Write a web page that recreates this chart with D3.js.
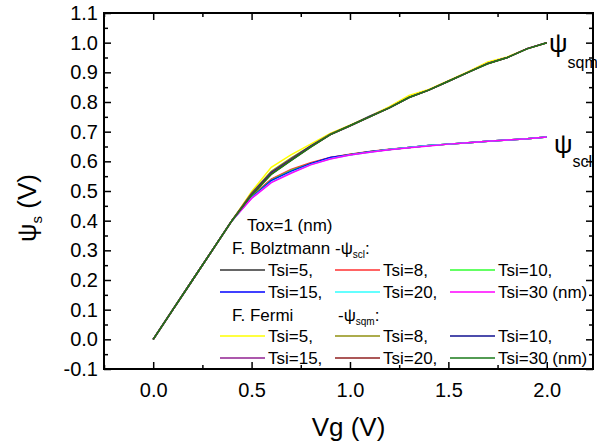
<!DOCTYPE html>
<html>
<head>
<meta charset="utf-8">
<script src="https://cdn.jsdelivr.net/npm/d3@7/dist/d3.min.js"></script>
<style>
  body { margin: 0; background: #fff; }
  svg { display: block; font-family: Arial, "Liberation Sans", sans-serif; }
  .axis path { display: none; }
  .axis line { stroke: #000; stroke-width: 1.5; }
  .axis text { font-size: 20px; fill: #000; }
</style>
</head>
<body>
<div id="chart"></div>
<script>
// gate voltage samples shared by every curve
var vg = [0, 0.1, 0.2, 0.3, 0.4, 0.5, 0.6, 0.7, 0.8, 0.9, 1.0,
          1.1, 1.2, 1.3, 1.4, 1.5, 1.6, 1.7, 1.8, 1.9, 2.0];

// Boltzmann statistics (psi_scl), one list per silicon thickness
var bolt5  = [0, 0.1, 0.2, 0.3, 0.4, 0.482, 0.538, 0.570, 0.593, 0.612, 0.623, 0.632, 0.640, 0.647, 0.653, 0.658, 0.663, 0.668, 0.672, 0.676, 0.682];
var bolt8  = [0, 0.1, 0.2, 0.3, 0.4, 0.483, 0.540, 0.573, 0.595, 0.613, 0.624, 0.633, 0.641, 0.647, 0.653, 0.658, 0.663, 0.668, 0.672, 0.676, 0.682];
var bolt10 = [0, 0.1, 0.2, 0.3, 0.4, 0.480, 0.537, 0.569, 0.592, 0.611, 0.622, 0.632, 0.640, 0.647, 0.653, 0.658, 0.663, 0.668, 0.672, 0.676, 0.682];
var bolt15 = [0, 0.1, 0.2, 0.3, 0.4, 0.478, 0.535, 0.566, 0.592, 0.613, 0.622, 0.632, 0.640, 0.647, 0.653, 0.658, 0.663, 0.668, 0.672, 0.676, 0.682];
var bolt20 = [0, 0.1, 0.2, 0.3, 0.4, 0.476, 0.530, 0.562, 0.589, 0.609, 0.621, 0.631, 0.640, 0.647, 0.653, 0.658, 0.663, 0.668, 0.672, 0.676, 0.682];
var bolt30 = [0, 0.1, 0.2, 0.3, 0.4, 0.475, 0.528, 0.560, 0.588, 0.608, 0.621, 0.631, 0.639, 0.646, 0.652, 0.658, 0.663, 0.668, 0.672, 0.676, 0.682];

// Fermi statistics (psi_sqm)
var fermi5  = [0, 0.1, 0.2, 0.3, 0.4, 0.498, 0.580, 0.622, 0.658, 0.694, 0.722, 0.752, 0.784, 0.822, 0.842, 0.872, 0.902, 0.935, 0.952, 0.980, 1.0];
var fermi8  = [0, 0.1, 0.2, 0.3, 0.4, 0.493, 0.566, 0.611, 0.652, 0.692, 0.721, 0.750, 0.781, 0.816, 0.840, 0.870, 0.900, 0.930, 0.950, 0.980, 1.0];
var fermi10 = [0, 0.1, 0.2, 0.3, 0.4, 0.490, 0.562, 0.607, 0.651, 0.690, 0.720, 0.752, 0.780, 0.815, 0.840, 0.870, 0.900, 0.930, 0.950, 0.980, 1.0];
var fermi15 = [0, 0.1, 0.2, 0.3, 0.4, 0.488, 0.558, 0.604, 0.649, 0.690, 0.719, 0.750, 0.780, 0.815, 0.840, 0.870, 0.900, 0.930, 0.950, 0.980, 1.0];
var fermi20 = [0, 0.1, 0.2, 0.3, 0.4, 0.487, 0.557, 0.603, 0.648, 0.690, 0.720, 0.750, 0.780, 0.815, 0.840, 0.870, 0.900, 0.929, 0.950, 0.979, 1.0];
var fermi30 = [0, 0.1, 0.2, 0.3, 0.4, 0.486, 0.556, 0.602, 0.648, 0.690, 0.720, 0.750, 0.780, 0.815, 0.840, 0.870, 0.900, 0.929, 0.950, 0.979, 1.0];

var boltLabels  = ["Tsi=5,", "Tsi=8,", "Tsi=10,", "Tsi=15,", "Tsi=20,", "Tsi=30 (nm)"];
var fermiLabels = ["Tsi=5,", "Tsi=8,", "Tsi=10,", "Tsi=15,", "Tsi=20,", "Tsi=30 (nm)"];
var boltColors  = ["#333333", "#ff3030", "#30ff30", "#0000ff", "#30ffff", "#ff00ff"];
var fermiColors = ["#ffff00", "#909010", "#101090", "#902090", "#902020", "#1a7a1a"];

var xTicks = [0, 0.5, 1.0, 1.5, 2.0];
var yTicks = [-0.1, 0, 0.1, 0.2, 0.3, 0.4, 0.5, 0.6, 0.7, 0.8, 0.9, 1.0, 1.1];

var W = 597, H = 448;
var margin = {top: 13, right: 4, bottom: 79, left: 104};
var width = W - margin.left - margin.right,
    height = H - margin.top - margin.bottom;

var svg = d3.select("#chart").append("svg")
    .attr("width", W)
    .attr("height", H);

svg.append("rect").attr("width", W).attr("height", H).attr("fill", "#fff");

var g = svg.append("g")
    .attr("transform", "translate(" + margin.left + "," + margin.top + ")");

var x = d3.scaleLinear().domain([-0.25, 2.235]).range([0, width]);
var y = d3.scaleLinear().domain([-0.1, 1.1]).range([height, 0]);

var xMinor = d3.range(-0.25, 2.24, 0.25).filter(function(d) { return xTicks.indexOf(+d.toFixed(2)) < 0; });
var yMinor = d3.range(-0.05, 1.1, 0.1);

// plain hyphen for negatives, like the original plot
var fmt = function(d) { return d3.format(".1f")(d).replace("\u2212", "-"); };

// curves
var line = d3.line()
    .x(function(d, i) { return x(vg[i]); })
    .y(function(d) { return y(d); });

var bolt = [bolt5, bolt8, bolt10, bolt15, bolt20, bolt30];
var fermi = [fermi5, fermi8, fermi10, fermi15, fermi20, fermi30];

bolt.forEach(function(s, i) {
  g.append("path").datum(s).attr("d", line)
    .attr("fill", "none").attr("stroke", boltColors[i]).attr("stroke-width", 1.5);
});
fermi.forEach(function(s, i) {
  g.append("path").datum(s).attr("d", line)
    .attr("fill", "none").attr("stroke", fermiColors[i]).attr("stroke-width", 1.5);
});

// axes, ticks inward on all four sides
g.append("g").attr("class", "axis")
  .attr("transform", "translate(0," + height + ")")
  .call(d3.axisBottom(x).tickValues(xTicks).tickSize(-7).tickPadding(14).tickFormat(fmt));
g.append("g").attr("class", "axis")
  .attr("transform", "translate(0," + height + ")")
  .call(d3.axisBottom(x).tickValues(xMinor).tickSize(-4).tickFormat(""));
g.append("g").attr("class", "axis")
  .call(d3.axisTop(x).tickValues(xTicks).tickSize(-7).tickFormat(""));
g.append("g").attr("class", "axis")
  .call(d3.axisTop(x).tickValues(xMinor).tickSize(-4).tickFormat(""));

g.append("g").attr("class", "axis")
  .call(d3.axisLeft(y).tickValues(yTicks).tickSize(-7).tickPadding(6).tickFormat(fmt));
g.append("g").attr("class", "axis")
  .call(d3.axisLeft(y).tickValues(yMinor).tickSize(-4).tickFormat(""));
g.append("g").attr("class", "axis")
  .attr("transform", "translate(" + width + ",0)")
  .call(d3.axisRight(y).tickValues(yTicks).tickSize(-7).tickFormat(""));
g.append("g").attr("class", "axis")
  .attr("transform", "translate(" + width + ",0)")
  .call(d3.axisRight(y).tickValues(yMinor).tickSize(-4).tickFormat(""));

g.append("rect")
  .attr("width", width).attr("height", height)
  .attr("fill", "none").attr("stroke", "#000").attr("stroke-width", 2);

// axis titles
svg.append("text")
  .attr("x", margin.left + width / 2).attr("y", 436)
  .attr("text-anchor", "middle").attr("font-size", 26)
  .text("Vg (V)");

var yt = svg.append("text")
  .attr("transform", "translate(36,208) rotate(-90)")
  .attr("text-anchor", "middle").attr("font-size", 26);
yt.append("tspan").text("ψ");
yt.append("tspan").attr("font-size", 15).attr("dy", 6).text("s");
yt.append("tspan").attr("dy", -6).text("  (V)");

// curve labels on the right
var l1 = svg.append("text").attr("x", 549).attr("y", 52).attr("font-size", 26);
l1.append("tspan").text("ψ");
l1.append("tspan").attr("font-size", 16).attr("dy", 16).text("sqm");
var l2 = svg.append("text").attr("x", 554).attr("y", 153).attr("font-size", 26);
l2.append("tspan").text("ψ");
l2.append("tspan").attr("font-size", 16).attr("dy", 14).text("scl");

// legend
var leg = svg.append("g").attr("font-size", 17);
leg.append("text").attr("x", 247).attr("y", 231).text("Tox=1 (nm)");

var h1 = leg.append("text").attr("x", 232).attr("y", 254);
h1.append("tspan").text("F. Bolztmann -ψ");
h1.append("tspan").attr("font-size", 10).attr("dy", 4).text("scl");
h1.append("tspan").attr("dy", -4).text(":");

var h2 = leg.append("g");
h2.append("text").attr("x", 232).attr("y", 321).text("F. Fermi");
var h2b = h2.append("text").attr("x", 338).attr("y", 321);
h2b.append("tspan").text("-ψ");
h2b.append("tspan").attr("font-size", 10).attr("dy", 4).text("sqm");
h2b.append("tspan").attr("dy", -4).text(":");

var colX = [220, 335, 450];
var rowY = [270, 292, 336, 358];

function legendItem(row, col, color, label) {
  leg.append("line")
    .attr("x1", colX[col]).attr("x2", colX[col] + 45)
    .attr("y1", rowY[row]).attr("y2", rowY[row])
    .attr("stroke", color).attr("stroke-width", 1.5);
  leg.append("text")
    .attr("x", colX[col] + 48).attr("y", rowY[row] + 6)
    .text(label);
}
boltLabels.forEach(function(l, i) {
  legendItem(Math.floor(i / 3), i % 3, boltColors[i], l);
});
fermiLabels.forEach(function(l, i) {
  legendItem(2 + Math.floor(i / 3), i % 3, fermiColors[i], l);
});
</script>
</body>
</html>
